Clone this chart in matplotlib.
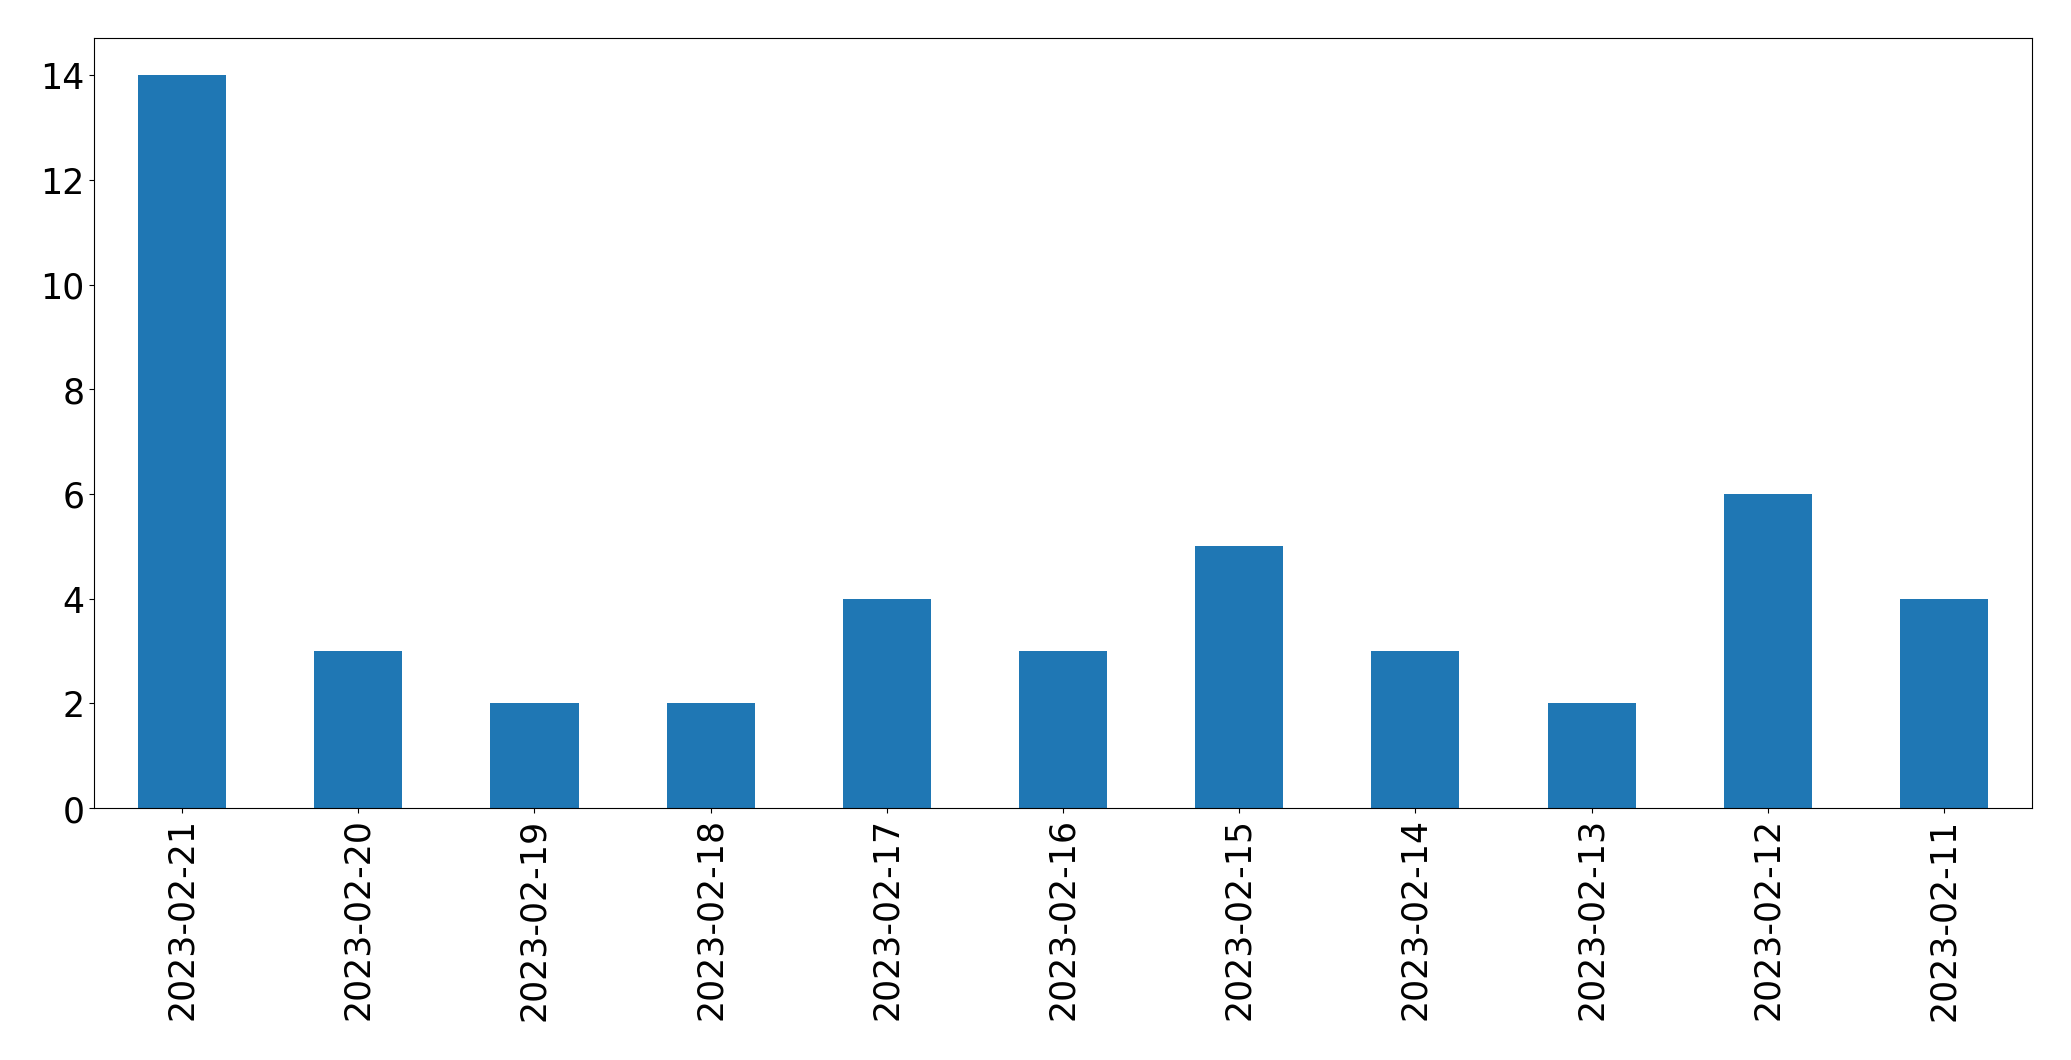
import numpy as np
import pandas as pd
import matplotlib
matplotlib.use('Agg')
import matplotlib.pyplot as plt

dates = ['2023-02-21', '2023-02-20', '2023-02-19', '2023-02-18', '2023-02-17',
         '2023-02-16', '2023-02-15', '2023-02-14', '2023-02-13', '2023-02-12',
         '2023-02-11']
counts = [14, 3, 2, 2, 4, 3, 5, 3, 2, 6, 4]

s = pd.Series(counts, index=dates)

fig = plt.figure(figsize=(20.71, 10.605), dpi=100)
ax = fig.add_axes([94 / 2071, 1 - 809 / 1061, (2032 - 94) / 2071, (809 - 39) / 1061])
s.plot(kind='bar', ax=ax, fontsize=25)

fig.savefig('out.png', dpi=100)
